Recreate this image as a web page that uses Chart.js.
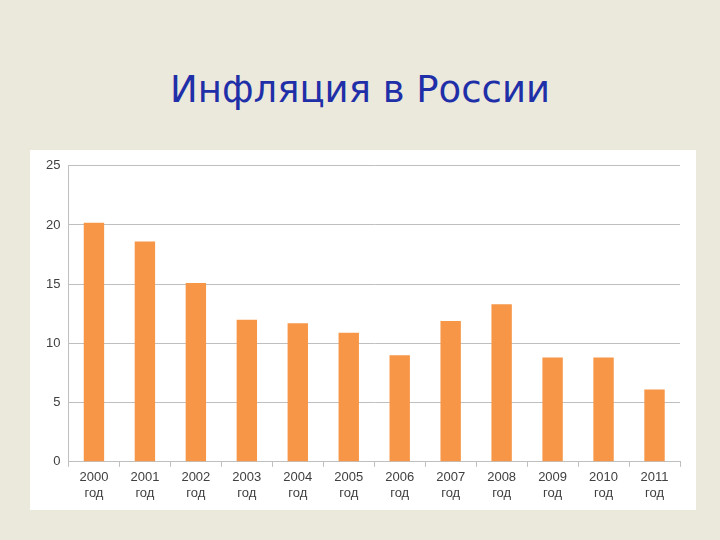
<!DOCTYPE html>
<html>
<head>
<meta charset="utf-8">
<script src="https://cdn.jsdelivr.net/npm/chart.js@4"></script>
<style>
  body { margin: 0; width: 720px; height: 540px; background: #ebe8dc; overflow: hidden; position: relative; }
  #title { position: absolute; left: 0; width: 720px; top: 68px; text-align: center; font-family: "DejaVu Sans", sans-serif; font-size: 37px; color: #1f2fa8; }
  #box { position: absolute; left: 30px; top: 150px; width: 666px; height: 360px; background: #fff; }
</style>
</head>
<body>
<div id="title">Инфляция в России</div>
<div id="box"><canvas id="chart" width="666" height="360"></canvas></div>
<script>
const years = ['2000', '2001', '2002', '2003', '2004', '2005', '2006', '2007', '2008', '2009', '2010', '2011'];
const inflation = [20.2, 18.6, 15.1, 12.0, 11.7, 10.9, 9.0, 11.9, 13.3, 8.8, 8.8, 6.1];
const labels = years.map(y => [y, 'год']);

new Chart(document.getElementById('chart'), {
    type: 'bar',
    data: {
        labels: labels,
        datasets: [{
            data: inflation,
            backgroundColor: '#f79646',
            categoryPercentage: 1.0,
            barPercentage: 0.4
        }]
    },
    options: {
        responsive: false,
        animation: false,
        layout: { padding: { top: 3, right: 16, left: 8, bottom: 6 } },
        plugins: { legend: { display: false }, tooltip: { enabled: false } },
        scales: {
            x: {
                grid: { display: true, drawOnChartArea: false, color: '#bfbfbf', tickLength: 5, offset: true },
                border: { color: '#bfbfbf' },
                ticks: { color: '#404040', font: { family: 'Liberation Sans', size: 13 }, maxRotation: 0 }
            },
            y: {
                min: 0, max: 25,
                ticks: { stepSize: 5, color: '#404040', font: { family: 'Liberation Sans', size: 13 }, padding: 8 },
                grid: { color: '#bfbfbf', drawTicks: false },
                border: { color: '#bfbfbf' }
            }
        }
    }
});
</script>
</body>
</html>
